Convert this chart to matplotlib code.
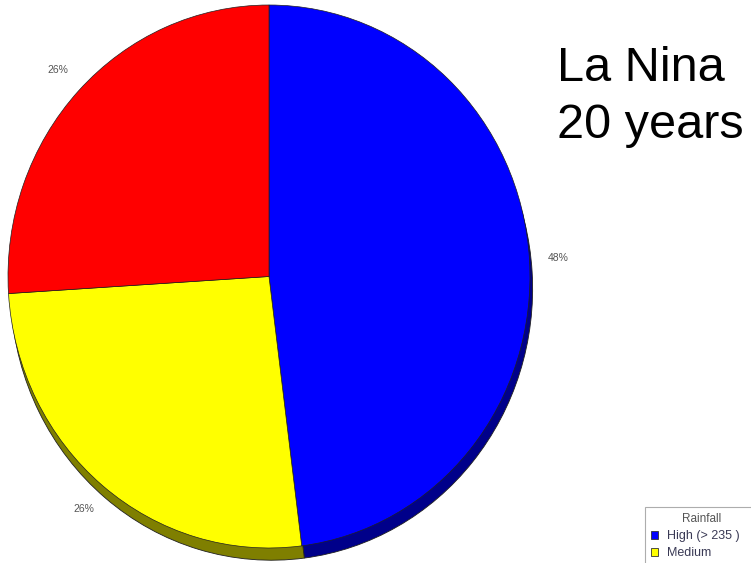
import matplotlib
matplotlib.use("Agg")
import matplotlib.pyplot as plt
from matplotlib.patches import Patch

labels = ["High (> 235 )", "Medium"]
values = [48, 26, 26]
colours = ["#0000FF", "#FFFF00", "#FF0000"]
shadow_colours = ["#00008A", "#7F7F00", "#800000"]
title_lines = ["La Nina", "20 years"]

W, H = 751, 563
fig = plt.figure(figsize=(W / 100, H / 100), dpi=100)
fig.patch.set_facecolor("white")

# axes span the pie ellipse (pixel box 8..530 x 5..548)
left, right, top, bottom = 8, 530, 5, 548
ax = fig.add_axes([left / W, 1 - bottom / H, (right - left) / W, (bottom - top) / H])

# 3D depth: darker copy shifted down
ax.pie(values, colors=shadow_colours, startangle=90, counterclock=False,
       radius=1, center=(0.01, -0.045), frame=False,
       wedgeprops={"edgecolor": "#202020", "linewidth": 0.6, "clip_on": False})
wedges, texts, autotexts = ax.pie(
    values, colors=colours, startangle=90, counterclock=False, radius=1,
    frame=False, autopct="%d%%", pctdistance=1.11,
    wedgeprops={"edgecolor": "#202020", "linewidth": 0.5, "clip_on": False},
    textprops={"color": "#555555", "fontsize": 7.5, "family": "Liberation Sans"})
ax.set_xlim(-1, 1)
ax.set_ylim(-1, 1)
ax.set_aspect("auto")
ax.axis("off")

# big annotation, one baseline per line
for i, line in enumerate(title_lines):
    fig.text(557 / W, 1 - (81 + 57 * i) / H, line, fontsize=35,
             family="Liberation Sans", va="baseline", ha="left")

# legend runs off the right/bottom edge like in the original screenshot
handles = [Patch(facecolor=c, edgecolor="#333333", linewidth=0.6) for c in colours[:2]]
leg = fig.legend(handles, labels, title="Rainfall", loc="upper left",
                 bbox_to_anchor=(645 / W, 1 - 508 / H, 114 / W, 0.001),
                 mode="expand", frameon=True, fancybox=False,
                 prop={"family": "Liberation Sans", "size": 9},
                 title_fontproperties={"family": "Liberation Sans", "size": 8.5},
                 handlelength=0.6, handleheight=0.6, handletextpad=0.7,
                 borderpad=0.45, labelspacing=0.4, borderaxespad=0)
leg.get_frame().set_edgecolor("#999999")
leg.get_frame().set_linewidth(0.8)
for t in leg.get_texts():
    t.set_color("#3A3A55")
leg.get_title().set_color("#555555")

fig.savefig("out.png", dpi=100, facecolor="white")
